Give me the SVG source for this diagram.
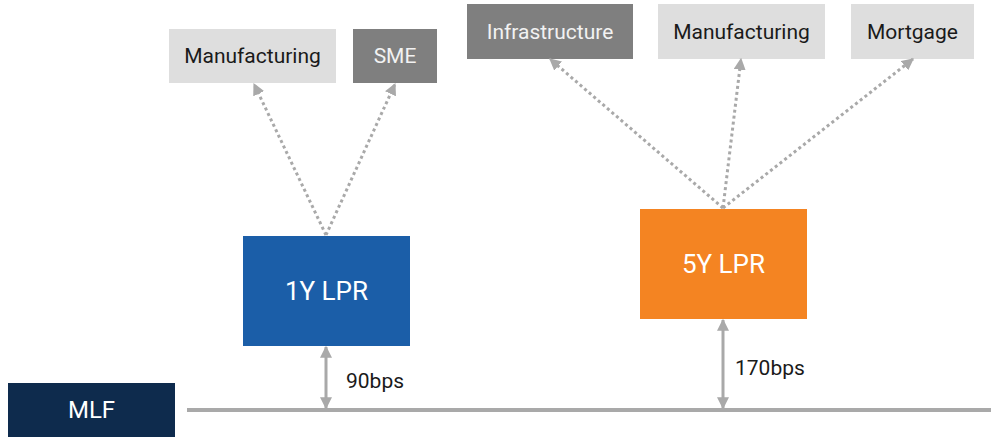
<svg xmlns="http://www.w3.org/2000/svg" width="999" height="437" viewBox="0 0 999 437">
<defs>
<style>
.lt{fill:#dedede}
.dk{fill:#7f7f7f}
.t{font-family:Roboto,"Liberation Sans",sans-serif;text-anchor:middle;dominant-baseline:central}
.tb{fill:#1a1a1a;font-size:21px}
.tw{fill:#f2f2f2;font-size:21px}
.big{fill:#ffffff;font-size:26px}
.dot{stroke:#a9a9a9;stroke-width:3;stroke-dasharray:3 3;fill:none}
.sol{stroke:#a9a9a9;stroke-width:3;fill:none}
.lbl{font-family:Roboto,"Liberation Sans",sans-serif;font-size:21px;fill:#1a1a1a}
</style>
<marker id="ah" viewBox="0 0 10 10" refX="9" refY="5" markerWidth="12" markerHeight="12" markerUnits="userSpaceOnUse" orient="auto-start-reverse">
<path d="M0,0 L10,5 L0,10 z" fill="#a9a9a9"/>
</marker>
</defs>
<g id="n-manu1"><rect class="lt" x="169" y="29" width="167" height="54"/><text class="t tb" x="252.5" y="56">Manufacturing</text></g>
<g id="n-sme"><rect class="dk" x="353" y="29" width="84" height="54"/><text class="t tw" x="395" y="56">SME</text></g>
<g id="n-infra"><rect class="dk" x="467" y="4" width="166" height="55"/><text class="t tw" x="550" y="31.5">Infrastructure</text></g>
<g id="n-manu2"><rect class="lt" x="658" y="4" width="167" height="55"/><text class="t tb" x="741.5" y="31.5">Manufacturing</text></g>
<g id="n-mort"><rect class="lt" x="851" y="4" width="123" height="55"/><text class="t tb" x="912.5" y="31.5">Mortgage</text></g>
<g id="n-1y"><rect fill="#1b5ea8" x="243" y="236" width="167" height="110"/><text class="t big" x="326.5" y="291">1Y LPR</text></g>
<g id="n-5y"><rect fill="#f48422" x="640" y="209" width="167" height="110"/><text class="t big" x="723.5" y="264">5Y LPR</text></g>
<g id="n-mlf"><rect fill="#0e2b4d" x="8" y="383" width="167" height="54"/><text class="t big" x="91.5" y="410" style="font-size:24px">MLF</text></g>
<g id="connectors">
<line class="dot" x1="326" y1="235" x2="254" y2="84" marker-end="url(#ah)"/>
<line class="dot" x1="326" y1="235" x2="395" y2="84" marker-end="url(#ah)"/>
<line class="dot" x1="723" y1="208" x2="550" y2="59" marker-end="url(#ah)"/>
<line class="dot" x1="723" y1="208" x2="741" y2="59" marker-end="url(#ah)"/>
<line class="dot" x1="723" y1="208" x2="913" y2="59" marker-end="url(#ah)"/>
<line x1="187" y1="410" x2="991" y2="410" stroke="#a9a9a9" stroke-width="4"/>
<line class="sol" x1="326" y1="347" x2="326" y2="408" marker-start="url(#ah)" marker-end="url(#ah)"/>
<line class="sol" x1="723" y1="320" x2="723" y2="408" marker-start="url(#ah)" marker-end="url(#ah)"/>
<text class="lbl" x="346" y="388">90bps</text>
<text class="lbl" x="735" y="375">170bps</text>
</g>
</svg>
